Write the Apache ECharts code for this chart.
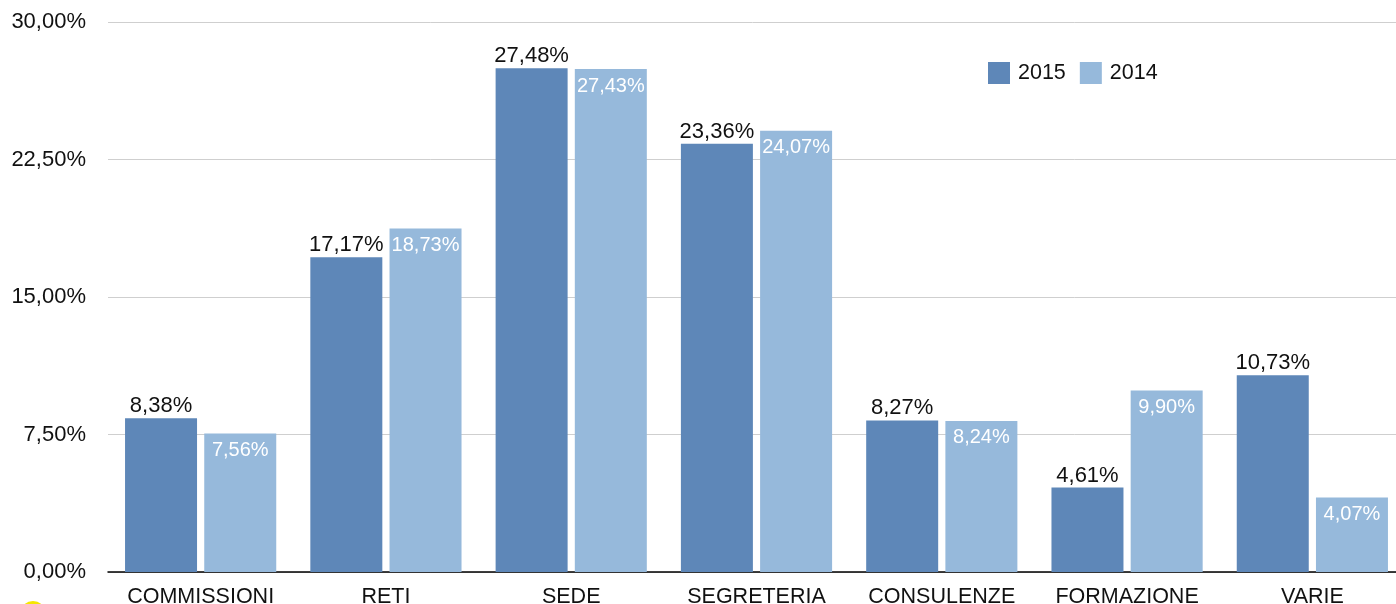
<!DOCTYPE html>
<html><head><meta charset="utf-8">
<script src="https://cdn.jsdelivr.net/npm/echarts@6/dist/echarts.min.js"></script>
<style>html,body{margin:0;padding:0;background:#fff}#c{width:1396px;height:604px}</style>
</head><body><div id="c"></div>
<script>
const categories = ['COMMISSIONI','RETI','SEDE','SEGRETERIA','CONSULENZE','FORMAZIONE','VARIE'];
const values2015 = [8.38, 17.17, 27.48, 23.36, 8.27, 4.61, 10.73];
const values2014 = [7.56, 18.73, 27.43, 24.07, 8.24, 9.90, 4.07];
const seriesNames = ['2015','2014'];
const fmt = v => v.toFixed(2).replace('.', ',') + '%';
const FONT = '"Liberation Sans", Helvetica, Arial, sans-serif';
const chart = echarts.init(document.getElementById('c'));
chart.setOption({
  animation: false,
  textStyle: { fontFamily: FONT },
  grid: { left: 108, right: -9, top: 22, bottom: 32, containLabel: false, outerBoundsMode: 'none' },
  legend: {
    data: seriesNames, left: 983, top: 57, itemWidth: 22, itemHeight: 22, itemGap: 14,
    icon: 'rect', textStyle: { fontSize: 21.5, color: '#111', fontFamily: FONT, padding: [0, 0, 0, 3] }
  },
  xAxis: {
    type: 'category', data: categories,
    axisLine: { lineStyle: { color: '#000', width: 1.5 } },
    axisTick: { show: false },
    axisLabel: { interval: 0, fontSize: 21.5, color: '#111', margin: 14, fontFamily: FONT }
  },
  yAxis: {
    type: 'value', min: 0, max: 30, interval: 7.5,
    axisLine: { show: false }, axisTick: { show: false },
    axisLabel: { fontSize: 22, color: '#111', margin: 22, formatter: v => fmt(v), fontFamily: FONT },
    splitLine: { lineStyle: { color: '#cfcfcf', width: 1 } }
  },
  series: [
    { name: seriesNames[0], type: 'bar', data: values2015, barWidth: 72, barGap: '10%',
      itemStyle: { color: '#5e87b8' },
      label: { show: true, position: 'top', distance: 1, fontSize: 22, color: '#111', fontFamily: FONT, formatter: p => fmt(p.value) } },
    { name: seriesNames[1], type: 'bar', data: values2014, barWidth: 72,
      itemStyle: { color: '#96b9db' },
      label: { show: true, position: 'insideTop', distance: 7, fontSize: 20, color: '#fff', fontFamily: FONT, formatter: p => fmt(p.value) } }
  ],
  graphic: [{ type: 'circle', shape: { cx: 33, cy: 614, r: 13 }, style: { fill: '#f5e600' } }]
});
</script></body></html>
